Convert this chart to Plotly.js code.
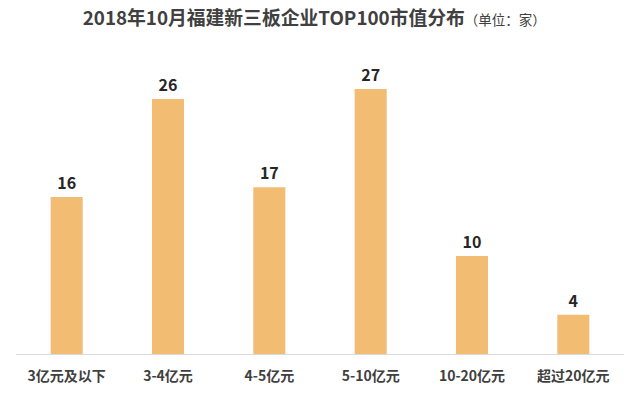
<!DOCTYPE html>
<html><head><meta charset="utf-8">
<script src="https://cdn.plot.ly/plotly-3.0.1.min.js"></script>
<style>html,body{margin:0;padding:0;background:#fff}#c{width:640px;height:399px}</style>
</head><body><div id="c"></div>
<script>
var categories = ['3亿元及以下', '3-4亿元', '4-5亿元', '5-10亿元', '10-20亿元', '超过20亿元'];
var values = [16, 26, 17, 27, 10, 4];
var titleMain = '2018年10月福建新三板企业TOP100市值分布';
var titleUnit = '（单位：家）';

var font = '"Noto Sans CJK SC", "Microsoft YaHei", sans-serif';
Plotly.newPlot('c', [{
  type: 'bar', x: categories, y: values,
  marker: {color: '#F2BC72'},
  text: values.map(String), textposition: 'outside', cliponaxis: false,
  textfont: {family: font, size: 16, color: '#262626', weight: 'bold'},
  hoverinfo: 'none'
}], {
  width: 640, height: 399,
  margin: {l: 16, r: 16, t: 40, b: 45},
  paper_bgcolor: '#fff', plot_bgcolor: '#fff',
  bargap: 0.684,
  showlegend: false,
  title: {text: '<b>' + titleMain + '</b><span style="font-size:13.5px">' + titleUnit + '</span>',
    x: 0.491, xanchor: 'center', y: 0.953, yanchor: 'middle',
    font: {family: font, size: 18.8, color: '#404040'}},
  xaxis: {showline: true, linecolor: '#D9D9D9', linewidth: 1, ticks: '', showgrid: false,
    ticklabelstandoff: 9,
    tickfont: {family: font, size: 14, color: '#404040', weight: 'bold'}, fixedrange: true},
  yaxis: {range: [0, 32], visible: false, showgrid: false, zeroline: false, fixedrange: true}
}, {displayModeBar: false, staticPlot: true});
</script></body></html>
